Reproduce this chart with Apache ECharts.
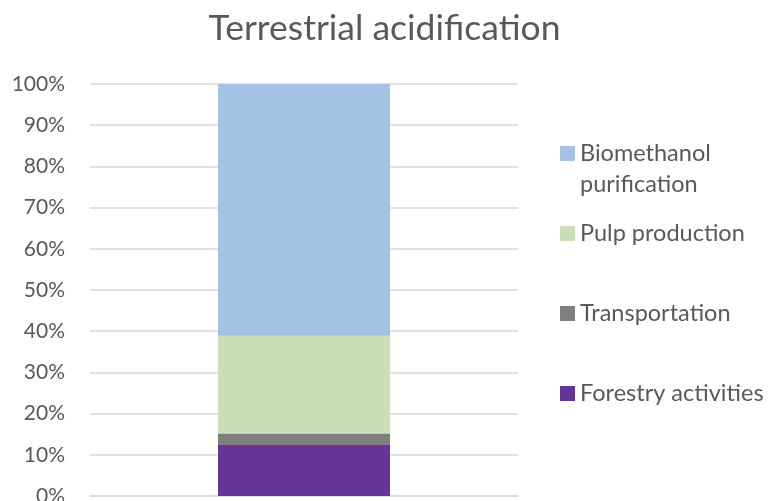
<!DOCTYPE html>
<html>
<head>
<meta charset="utf-8">
<script src="https://cdn.jsdelivr.net/npm/echarts@6/dist/echarts.min.js"></script>
<style>
  html, body { margin: 0; padding: 0; background: #fff; }
  #chart { width: 769px; height: 501px; }
</style>
</head>
<body>
<div id="chart"></div>
<script>
// Shares of the terrestrial acidification impact, in percent
const categories = ['Terrestrial acidification'];
const forestry = [12.4];
const transportation = [2.8];
const pulp = [23.7];
const biomethanol = [61.1];
const yTicks = [0, 10, 20, 30, 40, 50, 60, 70, 80, 90, 100];

const colors = {
  forestry: '#663399',
  transportation: '#7f7f7f',
  pulp: '#c9dfb8',
  biomethanol: '#a4c2e4'
};

const font = 'Lato, "Open Sans", sans-serif';
const textColor = '#595959';

const chart = echarts.init(document.getElementById('chart'), null, { renderer: 'canvas' });

function legendItem(name, top, formatter) {
  const item = {
    data: [name],
    orient: 'vertical',
    left: 555,
    top: top,
    itemWidth: 15,
    itemHeight: 15,
    itemGap: 0,
    icon: 'rect',
    selectedMode: false,
    textStyle: { fontFamily: font, fontSize: 23.5, color: textColor, lineHeight: 31 }
  };
  if (formatter) item.formatter = formatter;
  return item;
}

const option = {
  animation: false,
  title: {
    text: 'Terrestrial acidification',
    left: 'center',
    top: 6,
    textStyle: { fontFamily: font, fontSize: 35.5, fontWeight: 'normal', color: textColor }
  },
  legend: [
    // leading blank line keeps the icon level with the first line of the name
    legendItem('Biomethanol purification', 102, () => ' \nBiomethanol\npurification'),
    legendItem('Pulp production', 213),
    legendItem('Transportation', 293),
    legendItem('Forestry activities', 373)
  ],
  grid: { left: 90, right: 251, top: 84, bottom: 5, outerBoundsMode: 'none', containLabel: false },
  xAxis: {
    type: 'category',
    data: categories,
    axisLine: { show: true, lineStyle: { color: '#d9d9d9', width: 1.5 } },
    axisTick: { show: false },
    axisLabel: { show: false }
  },
  yAxis: {
    type: 'value',
    min: yTicks[0],
    max: yTicks[yTicks.length - 1],
    interval: 10,
    axisLine: { show: false },
    axisTick: { show: false },
    splitLine: { lineStyle: { color: '#d9d9d9', width: 1.5 } },
    axisLabel: {
      margin: 25,
      fontFamily: font,
      fontSize: 21,
      color: textColor,
      formatter: v => v + '%'
    }
  },
  series: [
    { name: 'Forestry activities', type: 'bar', stack: 'total', data: forestry, barWidth: 172, itemStyle: { color: colors.forestry } },
    { name: 'Transportation', type: 'bar', stack: 'total', data: transportation, itemStyle: { color: colors.transportation } },
    { name: 'Pulp production', type: 'bar', stack: 'total', data: pulp, itemStyle: { color: colors.pulp } },
    { name: 'Biomethanol purification', type: 'bar', stack: 'total', data: biomethanol, itemStyle: { color: colors.biomethanol } }
  ]
};

chart.setOption(option);
</script>
</body>
</html>
